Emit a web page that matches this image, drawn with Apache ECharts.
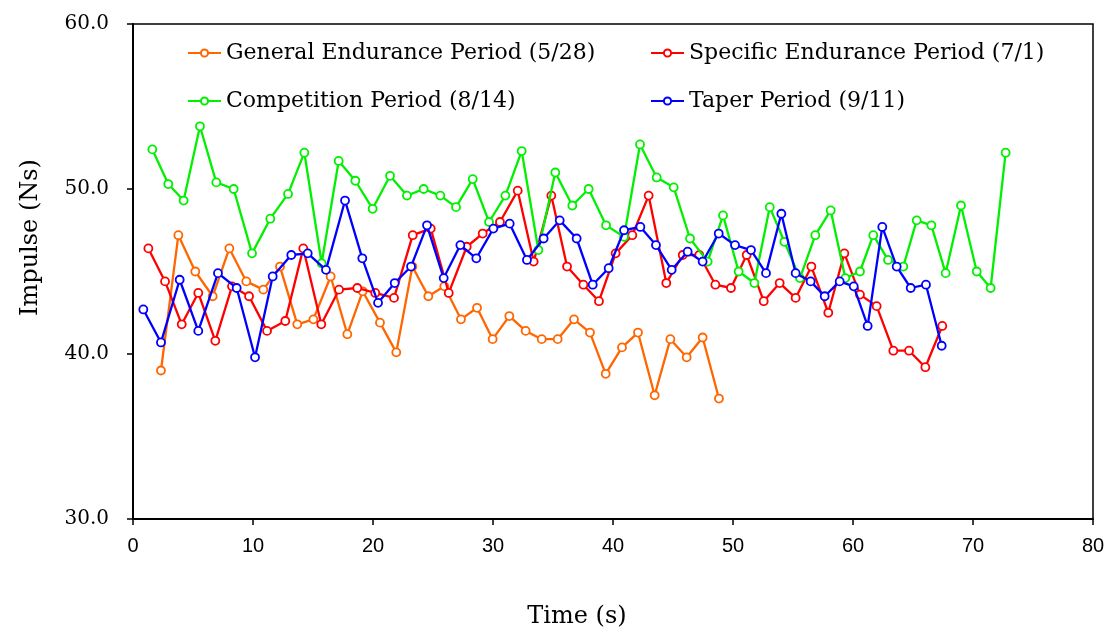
<!DOCTYPE html>
<html>
<head>
<meta charset="utf-8">
<script src="https://cdn.jsdelivr.net/npm/echarts@6/dist/echarts.min.js"></script>
<style>
  html, body { margin: 0; padding: 0; background: #fff; }
  #chart { width: 1107px; height: 632px; }
</style>
</head>
<body>
<div id="chart"></div>
<script>
// Time (s) and impulse (Ns) per training period
const generalX = [2.33, 3.78, 5.19, 6.64, 8.03, 9.44, 10.86, 12.25, 13.69, 15.03, 16.47, 17.86, 19.14, 20.58, 21.94, 23.28, 24.61, 25.94, 27.33, 28.67, 29.97, 31.36, 32.72, 34.06, 35.39, 36.75, 38.08, 39.39, 40.75, 42.08, 43.47, 44.78, 46.14, 47.47, 48.83];
const generalY = [39.0, 47.2, 45.0, 43.5, 46.4, 44.4, 43.9, 45.3, 41.8, 42.1, 44.7, 41.2, 43.8, 41.9, 40.1, 45.3, 43.5, 44.1, 42.1, 42.8, 40.9, 42.3, 41.4, 40.9, 40.9, 42.1, 41.3, 38.8, 40.4, 41.3, 37.5, 40.9, 39.8, 41.0, 37.3];

const specificX = [1.28, 2.67, 4.06, 5.44, 6.86, 8.25, 9.67, 11.17, 12.69, 14.19, 15.69, 17.17, 18.69, 20.19, 21.75, 23.31, 24.81, 26.31, 27.81, 29.14, 30.58, 32.06, 33.39, 34.86, 36.17, 37.53, 38.83, 40.22, 41.61, 42.97, 44.44, 45.81, 47.19, 48.53, 49.83, 51.14, 52.56, 53.89, 55.22, 56.53, 57.94, 59.28, 60.58, 61.97, 63.36, 64.67, 66.03, 67.44];
const specificY = [46.4, 44.4, 41.8, 43.7, 40.8, 44.1, 43.5, 41.4, 42.0, 46.4, 41.8, 43.9, 44.0, 43.7, 43.4, 47.2, 47.6, 43.7, 46.5, 47.3, 48.0, 49.9, 45.6, 49.6, 45.3, 44.2, 43.2, 46.1, 47.2, 49.6, 44.3, 46.0, 46.0, 44.2, 44.0, 46.0, 43.2, 44.3, 43.4, 45.3, 42.5, 46.1, 43.6, 42.9, 40.2, 40.2, 39.2, 41.7];

const competitionX = [1.61, 2.94, 4.22, 5.58, 6.94, 8.39, 9.92, 11.44, 12.92, 14.28, 15.72, 17.14, 18.53, 19.97, 21.42, 22.83, 24.22, 25.61, 26.92, 28.31, 29.67, 31.03, 32.39, 33.78, 35.19, 36.61, 37.97, 39.42, 40.92, 42.25, 43.64, 45.06, 46.42, 47.89, 49.17, 50.47, 51.78, 53.06, 54.28, 55.58, 56.86, 58.14, 59.36, 60.58, 61.69, 62.92, 64.19, 65.31, 66.53, 67.72, 69.0, 70.31, 71.47, 72.72];
const competitionY = [52.4, 50.3, 49.3, 53.8, 50.4, 50.0, 46.1, 48.2, 49.7, 52.2, 45.5, 51.7, 50.5, 48.8, 50.8, 49.6, 50.0, 49.6, 48.9, 50.6, 48.0, 49.6, 52.3, 46.3, 51.0, 49.0, 50.0, 47.8, 47.1, 52.7, 50.7, 50.1, 47.0, 45.6, 48.4, 45.0, 44.3, 48.9, 46.8, 44.6, 47.2, 48.7, 44.6, 45.0, 47.2, 45.7, 45.3, 48.1, 47.8, 44.9, 49.0, 45.0, 44.0, 52.2];

const taperX = [0.86, 2.33, 3.89, 5.44, 7.08, 8.64, 10.17, 11.64, 13.19, 14.56, 16.08, 17.67, 19.11, 20.42, 21.81, 23.17, 24.5, 25.89, 27.28, 28.61, 30.03, 31.39, 32.83, 34.22, 35.56, 36.97, 38.31, 39.64, 40.92, 42.28, 43.58, 44.89, 46.22, 47.47, 48.81, 50.17, 51.5, 52.75, 54.03, 55.22, 56.47, 57.64, 58.89, 60.06, 61.22, 62.44, 63.64, 64.81, 66.08, 67.39];
const taperY = [42.7, 40.7, 44.5, 41.4, 44.9, 44.0, 39.8, 44.7, 46.0, 46.1, 45.1, 49.3, 45.8, 43.1, 44.3, 45.3, 47.8, 44.6, 46.6, 45.8, 47.6, 47.9, 45.7, 47.0, 48.1, 47.0, 44.2, 45.2, 47.5, 47.7, 46.6, 45.1, 46.2, 45.6, 47.3, 46.6, 46.3, 44.9, 48.5, 44.9, 44.4, 43.5, 44.4, 44.1, 41.7, 47.7, 45.3, 44.0, 44.2, 40.5];

const seriesNames = ['General Endurance Period (5/28)', 'Specific Endurance Period (7/1)', 'Competition Period (8/14)', 'Taper Period (9/11)'];
const seriesColors = ['#FF6600', '#FF0000', '#00F000', '#0000FF'];

const xTicks = { min: 0, max: 80, interval: 10 };
const yTicks = { min: 30, max: 60, interval: 10 };

const zip = (xs, ys) => xs.map((x, i) => [x, ys[i]]);
const seriesData = [
  zip(generalX, generalY),
  zip(specificX, specificY),
  zip(competitionX, competitionY),
  zip(taperX, taperY)
];

const serif = '"DejaVu Serif", "Liberation Serif", serif';

const chart = echarts.init(document.getElementById('chart'), null, { renderer: 'canvas' });

// two stacked legend columns so the second column lines up
const legendCommon = {
  orient: 'vertical',
  itemWidth: 33,
  itemHeight: 9,
  itemGap: 26,
  textStyle: { fontFamily: serif, fontSize: 22, color: '#000', lineHeight: 22 },
  selectedMode: false
};

chart.setOption({
  animation: false,
  backgroundColor: '#fff',
  grid: {
    left: 133, right: 14, top: 24, bottom: 113,
    outerBoundsMode: 'none',
    containLabel: false,
    show: true, borderColor: '#000', borderWidth: 1.5
  },
  legend: [
    Object.assign({ left: 182, top: 37, data: [seriesNames[0], seriesNames[2]] }, legendCommon),
    Object.assign({ left: 645, top: 37, data: [seriesNames[1], seriesNames[3]] }, legendCommon)
  ],
  xAxis: {
    type: 'value',
    min: xTicks.min, max: xTicks.max, interval: xTicks.interval,
    name: 'Time (s)',
    nameLocation: 'middle',
    nameGap: 86,
    nameTextStyle: { fontFamily: serif, fontSize: 24, color: '#000', padding: [0, 72, 0, 0] },
    axisLine: { lineStyle: { color: '#000', width: 2 } },
    axisTick: { show: true, length: 6, lineStyle: { color: '#000', width: 1.5 } },
    axisLabel: { fontFamily: '"Liberation Sans", Arial, sans-serif', fontSize: 20, color: '#000', margin: 17 },
    splitLine: { show: false }
  },
  yAxis: {
    type: 'value',
    min: yTicks.min, max: yTicks.max, interval: yTicks.interval,
    name: 'Impulse (Ns)',
    nameLocation: 'middle',
    nameGap: 90,
    nameTextStyle: { fontFamily: serif, fontSize: 24, color: '#000', padding: [0, 0, 0, 68] },
    axisLine: { lineStyle: { color: '#000', width: 2 } },
    axisTick: { show: true, length: 6, lineStyle: { color: '#000', width: 1.5 } },
    axisLabel: {
      fontFamily: serif, fontSize: 20, color: '#000', margin: 24,
      formatter: v => v.toFixed(1)
    },
    splitLine: { show: false }
  },
  series: seriesNames.map((name, i) => ({
    name: name,
    type: 'line',
    data: seriesData[i],
    color: seriesColors[i],
    symbol: 'circle',
    symbolSize: 8,
    showAllSymbol: true,
    lineStyle: { color: seriesColors[i], width: 2.3 },
    itemStyle: { color: '#fff', borderColor: seriesColors[i], borderWidth: 1.8 },
    emphasis: { disabled: true },
    z: 2 + i
  }))
});
</script>
</body>
</html>
